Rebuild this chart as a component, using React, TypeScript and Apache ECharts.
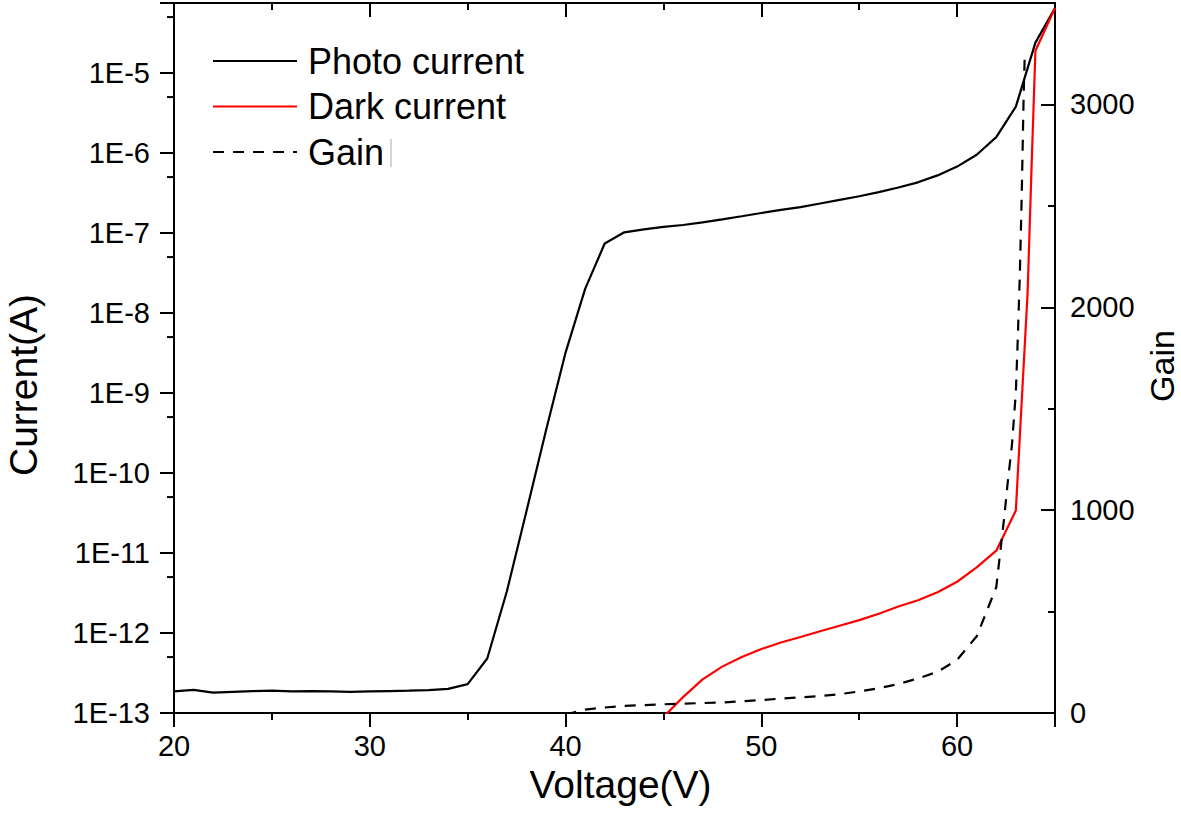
import React, { useEffect, useRef } from "react";
import * as echarts from "echarts";

// ---- data ----
const photoVoltage = [20, 21, 22, 23, 24, 25, 26, 27, 28, 29, 30, 31, 32, 33, 34, 35, 36, 37, 38, 39, 40, 41, 42, 43, 44, 45, 46, 47, 48, 49, 50, 51, 52, 53, 54, 55, 56, 57, 58, 59, 60, 61, 62, 63, 64, 65];
const photoCurrent = [
  1.86e-13, 1.95e-13, 1.8e-13, 1.84e-13, 1.88e-13, 1.9e-13, 1.86e-13, 1.88e-13, 1.86e-13, 1.84e-13,
  1.86e-13, 1.88e-13, 1.9e-13, 1.93e-13, 2.0e-13, 2.3e-13, 4.8e-13, 3.3e-12, 3.3e-11, 3.4e-10,
  3.2e-9, 2.0e-8, 7.4e-8, 1.02e-7, 1.11e-7, 1.19e-7, 1.26e-7, 1.36e-7, 1.48e-7, 1.62e-7,
  1.78e-7, 1.95e-7, 2.11e-7, 2.34e-7, 2.6e-7, 2.88e-7, 3.24e-7, 3.7e-7, 4.3e-7, 5.25e-7,
  6.76e-7, 9.5e-7, 1.58e-6, 3.8e-6, 2.4e-5, 6.5e-5,
];

const darkVoltage = [45, 46, 47, 48, 49, 50, 51, 52, 53, 54, 55, 56, 57, 58, 59, 60, 61, 62, 63, 63.3, 63.6, 63.8, 64, 65];
const darkCurrent = [
  8.9e-14, 1.58e-13, 2.63e-13, 3.8e-13, 5.0e-13, 6.3e-13, 7.6e-13, 8.9e-13, 1.05e-12, 1.23e-12,
  1.45e-12, 1.74e-12, 2.14e-12, 2.57e-12, 3.24e-12, 4.37e-12, 6.6e-12, 1.07e-11, 3.4e-11, 7.9e-10,
  1.78e-8, 6.3e-7, 1.9e-5, 6.5e-5,
];

const gainVoltage = [40, 41, 42, 43, 44, 45, 46, 47, 48, 49, 50, 51, 52, 53, 54, 55, 56, 57, 58, 59, 60, 61, 62, 62.2, 62.4, 62.6, 62.8, 63.0, 63.1, 63.2, 63.3, 63.4, 63.46];
const gainValues = [
  -8, 17, 27, 35, 39, 43, 46, 49, 52, 58, 64, 71, 77, 84, 93, 106, 122, 143, 170, 203,
  262, 378, 620, 790, 960, 1150, 1320, 1580, 1850, 2150, 2550, 3050, 3260,
];

const currentMinorTicks = [5e-13, 5e-12, 5e-11, 5e-10, 5e-9, 5e-8, 5e-7, 5e-6, 5e-5];
const seriesNames = ["Photo current", "Dark current", "Gain"];
const leftTitle = "Current(A)";
const rightTitle = "Gain";
const bottomTitle = "Voltage(V)";

const FONT = "'Liberation Sans', Arial, sans-serif";
const CUR_MIN = 1e-13;
const CUR_MAX = 7.5e-5;

function pairs(xs: number[], ys: number[]) {
  return xs.map((x, i) => [x, ys[i]]);
}

export default function App() {
  const ref = useRef<HTMLDivElement>(null);

  useEffect(() => {
    if (!ref.current) return;
    const chart = echarts.init(ref.current, null, { renderer: "svg" });
    const axisLineStyle = { color: "#000", width: 2 };
    const tickStyle = { color: "#000", width: 2 };
    const xBase = { type: "value", min: 20, max: 65, splitLine: { show: false } };
    const labelFont = 29;
    const nameFont = 39;

    chart.setOption({
      animation: false,
      backgroundColor: "#fff",
      grid: { left: 174, right: 126, top: 3, bottom: 114, containLabel: false, outerBoundsMode: "none" },
      legend: {
        data: seriesNames,
        orient: "vertical",
        left: 212,
        top: 43,
        padding: 0,
        itemWidth: 84,
        itemHeight: 14,
        itemGap: 9.5,
        itemStyle: { opacity: 0, borderWidth: 0 },
        textStyle: { fontSize: 36, color: "#000", fontFamily: FONT, lineHeight: 36, padding: [0, 0, 0, 6] },
      },
      xAxis: [
        {
          ...xBase,
          position: "bottom",
          interval: 5,
          axisLine: { show: true, onZero: false, lineStyle: axisLineStyle },
          axisTick: { show: true, inside: false, length: 7, lineStyle: tickStyle },
          axisLabel: { show: false },
        },
        {
          ...xBase,
          position: "bottom",
          interval: 10,
          axisLine: { show: false, onZero: false },
          axisTick: { show: true, inside: false, length: 14, lineStyle: tickStyle },
          axisLabel: {
            show: true,
            margin: 18,
            color: "#000",
            fontSize: labelFont,
            fontFamily: FONT,
            formatter: (v: number) => (v % 10 === 0 ? String(v) : ""),
          },
          name: bottomTitle,
          nameLocation: "middle",
          nameGap: 46,
          nameTextStyle: { fontSize: nameFont, color: "#000", fontFamily: FONT, padding: [0, 0, 0, 12] },
        },
        {
          ...xBase,
          position: "top",
          interval: 5,
          axisLine: { show: true, onZero: false, lineStyle: axisLineStyle },
          axisTick: { show: true, inside: true, length: 7, lineStyle: tickStyle },
          axisLabel: { show: false },
        },
        {
          ...xBase,
          position: "top",
          interval: 10,
          axisLine: { show: false, onZero: false },
          axisTick: { show: true, inside: true, length: 14, lineStyle: tickStyle },
          axisLabel: { show: false },
        },
      ],
      yAxis: [
        {
          type: "log",
          logBase: 10,
          min: CUR_MIN,
          max: CUR_MAX,
          position: "left",
          splitLine: { show: false },
          axisLine: { show: true, onZero: false, lineStyle: axisLineStyle },
          axisTick: { show: true, inside: false, length: 14, lineStyle: tickStyle },
          axisLabel: {
            margin: 24,
            color: "#000",
            fontSize: labelFont,
            fontFamily: FONT,
            formatter: (v: number) => {
              const e = Math.log10(v);
              const r = Math.round(e);
              return Math.abs(e - r) < 1e-6 ? "1E" + r : "";
            },
          },
        },
        {
          type: "value",
          min: 0,
          max: 3500,
          interval: 500,
          position: "right",
          splitLine: { show: false },
          axisLine: { show: true, onZero: false, lineStyle: axisLineStyle },
          axisTick: { show: true, inside: true, length: 7, lineStyle: tickStyle },
          axisLabel: { show: false },
        },
        {
          type: "value",
          min: 0,
          max: 3500,
          interval: 1000,
          position: "right",
          splitLine: { show: false },
          axisLine: { show: false, onZero: false },
          axisTick: { show: true, inside: true, length: 14, lineStyle: tickStyle },
          axisLabel: {
            margin: 15,
            color: "#000",
            fontSize: labelFont,
            fontFamily: FONT,
            formatter: (v: number) => (v % 1000 === 0 ? String(v) : ""),
          },
        },
      ],
      series: [
        {
          name: seriesNames[0],
          type: "line",
          xAxisIndex: 0,
          yAxisIndex: 0,
          data: pairs(photoVoltage, photoCurrent),
          symbol: "none",
          lineStyle: { color: "#000", width: 2.2 },
          itemStyle: { color: "#000" },
          clip: true,
        },
        {
          name: seriesNames[1],
          type: "line",
          xAxisIndex: 0,
          yAxisIndex: 0,
          data: pairs(darkVoltage, darkCurrent),
          symbol: "none",
          lineStyle: { color: "#ff0000", width: 2.2 },
          itemStyle: { color: "#ff0000" },
          clip: true,
        },
        {
          name: seriesNames[2],
          type: "line",
          xAxisIndex: 0,
          yAxisIndex: 2,
          data: pairs(gainVoltage, gainValues),
          symbol: "none",
          lineStyle: { color: "#000", width: 2.2, type: [11, 9] },
          itemStyle: { color: "#000" },
          clip: true,
        },
      ],
    });

    // minor ticks of the log axis at 5 x 10^n, placed through the axis scale
    const x0 = chart.convertToPixel({ xAxisIndex: 0 }, 20) as number;
    const minor = currentMinorTicks.map((v) => {
      const y = chart.convertToPixel({ yAxisIndex: 0 }, v) as number;
      return {
        type: "line",
        shape: { x1: x0 - 7, y1: y, x2: x0, y2: y },
        style: { stroke: "#000", lineWidth: 2 },
      };
    });
    const titleStyle = (text: string, size: number) => ({
      text,
      fontSize: size,
      fontFamily: FONT,
      fill: "#000",
      align: "center",
      verticalAlign: "middle",
    });
    chart.setOption({
      graphic: [
        ...minor,
        {
          type: "line",
          shape: { x1: 391, y1: 139, x2: 391, y2: 167 },
          style: { stroke: "#aaa", lineWidth: 1 },
        },
        {
          type: "text",
          x: 23,
          y: 385,
          rotation: Math.PI / 2,
          style: titleStyle(leftTitle, nameFont),
        },
        {
          type: "text",
          x: 1162,
          y: 366,
          rotation: Math.PI / 2,
          style: titleStyle(rightTitle, 34),
        },
      ],
    });

    return () => chart.dispose();
  }, []);

  return (
    <div
      ref={ref}
      style={{ position: "absolute", left: 0, top: 0, width: 1181, height: 827, background: "#fff" }}
    />
  );
}
